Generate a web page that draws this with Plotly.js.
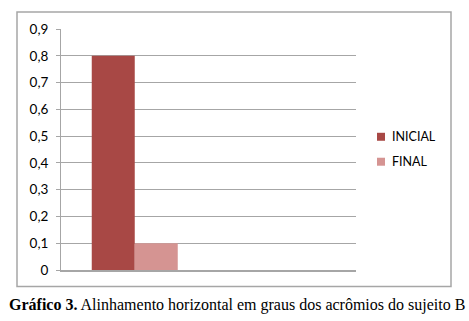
<!DOCTYPE html>
<html>
<head>
<meta charset="utf-8">
<script src="https://cdn.plot.ly/plotly-3.0.1.min.js"></script>
<style>html,body{margin:0;padding:0;background:#fff;}#chart{width:469px;height:321px;}</style>
</head>
<body>
<div id="chart"></div>
<script>
var categories = ["Sujeito B", " "];
var seriesNames = ["INICIAL", "FINAL"];
var inicialValues = [0.8];
var finalValues = [0.1];
var yTickValues = [0, 0.1, 0.2, 0.3, 0.4, 0.5, 0.6, 0.7, 0.8, 0.9];
var yTickLabels = ["0", "0,1", "0,2", "0,3", "0,4", "0,5", "0,6", "0,7", "0,8", "0,9"];
var caption = "<b>Gráfico 3.</b> Alinhamento horizontal em graus dos acrômios do sujeito B";

var colors = ["#A84845", "#D59492"];
var font = "Lato, 'DejaVu Sans', sans-serif";

// pixel -> paper helpers (plot area: x 61..356, y 29..270.5)
function px(x) { return (x - 61) / 295; }
function py(y) { return (270.5 - y) / 241.5; }

var traces = [
  {type: "bar", name: seriesNames[0], x: [categories[0]], y: inicialValues,
   marker: {color: colors[0]}, hoverinfo: "none"},
  {type: "bar", name: seriesNames[1], x: [categories[0]], y: finalValues,
   marker: {color: colors[1]}, hoverinfo: "none"}
];

var legendY = [137, 162];
var shapes = [{type: "rect", xref: "paper", yref: "paper",
  x0: px(17), x1: px(451), y0: py(287), y1: py(12),
  line: {color: "#A6A6A6", width: 1.5}, fillcolor: "rgba(0,0,0,0)", layer: "below"}];
var annotations = [{xref: "paper", yref: "paper", x: px(7), y: py(305.5),
  xanchor: "left", yanchor: "middle", showarrow: false, text: caption,
  font: {family: "'Liberation Serif', 'Times New Roman', serif", size: 16, color: "#000"}}];
seriesNames.forEach(function (name, i) {
  shapes.push({type: "rect", xref: "paper", yref: "paper",
    x0: px(377), x1: px(385), y0: py(legendY[i] + 4), y1: py(legendY[i] - 4),
    line: {width: 0}, fillcolor: colors[i]});
  annotations.push({xref: "paper", yref: "paper", x: px(390), y: py(legendY[i]),
    xanchor: "left", yanchor: "middle", showarrow: false, text: name,
    font: {family: font, size: 12.5, color: "#000"}});
});

var layout = {
  width: 469, height: 321,
  margin: {l: 61, r: 113, t: 29, b: 50.5, pad: 0},
  paper_bgcolor: "#fff", plot_bgcolor: "#fff",
  showlegend: false,
  barmode: "group", bargap: 0.417, bargroupgap: 0,
  font: {family: font, size: 13, color: "#000"},
  xaxis: {type: "category", categoryorder: "array", categoryarray: categories,
    range: [-0.5, 1.5], showticklabels: false, ticks: "", showgrid: false,
    zeroline: false, showline: true, linecolor: "#A6A6A6", linewidth: 1.5, fixedrange: true},
  yaxis: {range: [0, 0.9], tickvals: yTickValues, ticktext: yTickLabels,
    ticks: "outside", ticklen: 4, tickcolor: "#A6A6A6", tickwidth: 1,
    showgrid: true, gridcolor: "#A6A6A6", gridwidth: 1, zeroline: false,
    showline: true, linecolor: "#A6A6A6", linewidth: 1,
    ticklabelstandoff: 5, tickfont: {family: font, size: 13.5, color: "#000"}, fixedrange: true},
  shapes: shapes,
  annotations: annotations
};

Plotly.newPlot("chart", traces, layout, {staticPlot: true, displayModeBar: false});
</script>
</body>
</html>
